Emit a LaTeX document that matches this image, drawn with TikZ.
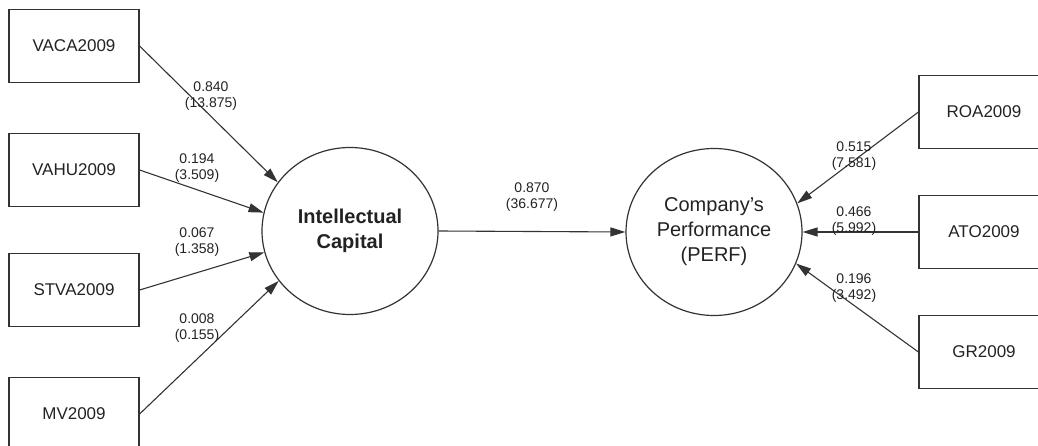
\documentclass[tikz,border=0pt]{standalone}
\usepackage{fontspec}
\setmainfont{Liberation Sans}
\usetikzlibrary{arrows.meta,shapes.geometric}
\definecolor{linec}{HTML}{333333}
\definecolor{txtc}{HTML}{222222}
\begin{document}
\begin{tikzpicture}[x=1pt,y=-1pt,
  ind/.style={draw=linec, line width=1.2pt, minimum width=130pt, minimum height=73pt,
    inner sep=0pt, font=\fontsize{17}{20}\selectfont, text=txtc},
  lat/.style={draw=linec, line width=1.2pt, ellipse, minimum width=176pt, minimum height=167pt,
    inner sep=0pt, align=center, text=txtc},
  conn/.style={draw=linec, line width=1.1pt, -{Triangle[length=15pt,width=9pt]}},
  coef/.style={font=\fontsize{14}{16.5}\selectfont, align=center, text=txtc, inner sep=0pt}
]
\path[use as bounding box] (0,0) rectangle (1038,446);
\clip (0,0) rectangle (1038,446);

% latent constructs
\node[lat, font=\bfseries\fontsize{20}{25}\selectfont] (ic) at (350,231) {Intellectual\\Capital};
\node[lat, font=\fontsize{20}{25}\selectfont] (perf) at (714,232) {Company's\\Performance\\(PERF)};

% indicators of intellectual capital
\node[ind] (vaca) at (74,46)  {VACA2009};
\node[ind] (vahu) at (74,170) {VAHU2009};
\node[ind] (stva) at (74,290) {STVA2009};
\node[ind] (mv)   at (74,414) {MV2009};

% indicators of performance
\node[ind] (roa) at (984,112) {ROA2009};
\node[ind] (ato) at (984,232) {ATO2009};
\node[ind] (gr)  at (984,352) {GR2009};

% paths with coefficients (t-values)
\draw[conn] (vaca.east) -- (ic.146);
\draw[conn] (vahu.east) -- (ic.168);
\draw[conn] (stva.east) -- (ic.194);
\draw[conn] (mv.east)   -- (ic.215);
\draw[conn] (ic.east)   -- (perf.west);
\draw[conn] (roa.west)  -- (perf.19);
\draw[conn] (ato.west)  -- (perf.east);
\draw[conn] (gr.west)   -- (perf.-21);

\node[coef] (c1) at (211,96)  {0.840\\(13.875)};
\node[coef] (c2) at (197,168) {0.194\\(3.509)};
\node[coef] (c3) at (197,242) {0.067\\(1.358)};
\node[coef] (c4) at (197,328) {0.008\\(0.155)};
\node[coef] (c5) at (532,197) {0.870\\(36.677)};
\node[coef] (c6) at (854,156) {0.515\\(7.581)};
\node[coef] (c7) at (854,221) {0.466\\(5.992)};
\node[coef] (c8) at (854,288) {0.196\\(3.492)};
\end{tikzpicture}
\end{document}
